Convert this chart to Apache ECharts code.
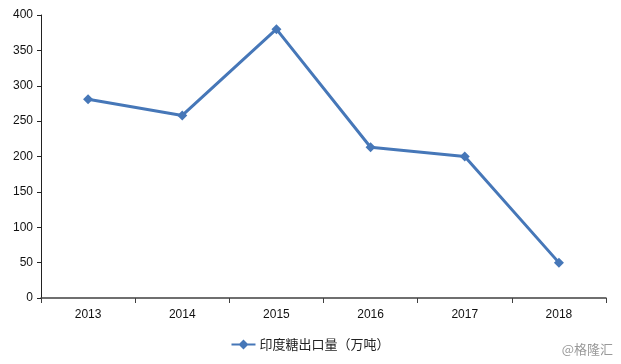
<!DOCTYPE html>
<html><head><meta charset="utf-8">
<script src="https://cdn.jsdelivr.net/npm/echarts@6/dist/echarts.min.js"></script>
<style>html,body{margin:0;padding:0;background:#fff}#c{width:621px;height:364px}</style>
</head><body><div id="c"></div>
<script>
const categories = ['2013','2014','2015','2016','2017','2018'];
const exportValues = [281, 258, 380, 213, 200, 50];
const seriesName = '印度糖出口量（万吨）';
const yTicks = {min: 0, max: 400, interval: 50};

const chart = echarts.init(document.getElementById('c'));
chart.setOption({
  animation: false,
  backgroundColor: '#fff',
  grid: {left: 41, right: 15, top: 15, bottom: 66},
  legend: {
    bottom: 8, left: 'center',
    data: [{name: seriesName, icon: 'path://M0,4 L8,4 L12,0 L16,4 L24,4 L24,6 L16,6 L12,10 L8,6 L0,6 Z'}],
    itemWidth: 26, itemHeight: 10, itemGap: 4,
    textStyle: {fontFamily: 'Noto Sans CJK SC', fontSize: 13, color: '#222', padding: [0, 0, 0, -2]}
  },
  xAxis: {
    type: 'category', data: categories, boundaryGap: true,
    axisLine: {lineStyle: {color: '#404040', width: 1.5}},
    axisTick: {show: true, alignWithLabel: false, length: 5, lineStyle: {color: '#404040'}},
    axisLabel: {color: '#111', fontSize: 12, fontFamily: 'Liberation Sans', margin: 11}
  },
  yAxis: {
    type: 'value', min: yTicks.min, max: yTicks.max, interval: yTicks.interval,
    axisLine: {show: true, lineStyle: {color: '#222', width: 1}},
    axisTick: {show: true, length: 4, lineStyle: {color: '#222'}},
    splitLine: {show: false},
    axisLabel: {color: '#111', fontSize: 12, fontFamily: 'Liberation Sans', margin: 8}
  },
  series: [{
    name: seriesName, type: 'line', data: exportValues,
    symbol: 'diamond', symbolSize: 10,
    lineStyle: {color: '#4677b8', width: 3},
    itemStyle: {color: '#4677b8'}
  }],
  graphic: [{
    type: 'text', right: 8, bottom: 8,
    style: {text: '@格隆汇', fill: '#999', font: '13px "Noto Sans CJK SC"'}
  }]
});
</script></body></html>
